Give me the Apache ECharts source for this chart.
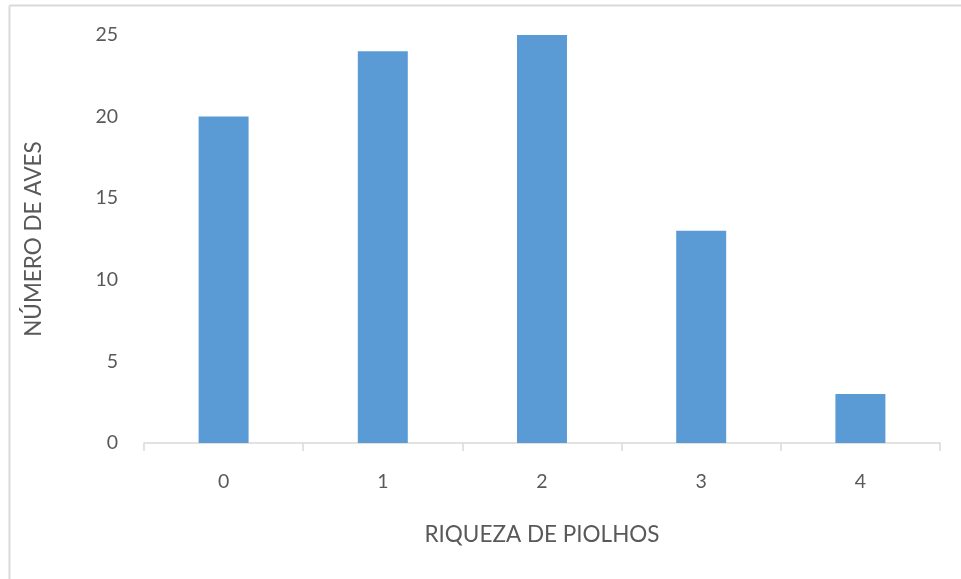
<!DOCTYPE html>
<html>
<head>
<meta charset="utf-8">
<script src="https://cdn.jsdelivr.net/npm/echarts@6/dist/echarts.min.js"></script>
<style>
  html, body { margin: 0; padding: 0; background: #ffffff; }
  #chart { width: 961px; height: 579px; }
</style>
</head>
<body>
<div id="chart"></div>
<script>
// Lice richness classes and number of birds in each
const categories = ['0', '1', '2', '3', '4'];
const birdCounts = [20, 24, 25, 13, 3];
const yTicks = { min: 0, max: 25, interval: 5 };

const xTitle = 'RIQUEZA DE PIOLHOS';
const yTitle = 'NÚMERO DE AVES';

const FONT = 'Lato, "Open Sans", sans-serif';
const TEXT = '#595959';

const chart = echarts.init(document.getElementById('chart'), null, { renderer: 'canvas' });

chart.setOption({
  backgroundColor: '#ffffff',
  animation: false,
  textStyle: { fontFamily: FONT },
  graphic: [
    // thin frame along the top and left edges
    { type: 'line', shape: { x1: 9.5, y1: 5.5, x2: 961, y2: 5.5 }, style: { stroke: '#d9d9d9', lineWidth: 2 } },
    { type: 'line', shape: { x1: 9.5, y1: 5.5, x2: 9.5, y2: 579 }, style: { stroke: '#d9d9d9', lineWidth: 2 } }
  ],
  grid: { left: 144, right: 21, top: 35, bottom: 136, containLabel: false },
  xAxis: {
    type: 'category',
    data: categories,
    name: xTitle,
    nameLocation: 'middle',
    nameGap: 80,
    nameTextStyle: { color: TEXT, fontSize: 22.5, fontFamily: FONT },
    axisLine: { show: true, lineStyle: { color: '#d9d9d9', width: 1.5 } },
    axisTick: { show: true, alignWithLabel: false, length: 8, lineStyle: { color: '#d9d9d9', width: 1.5 } },
    axisLabel: { color: TEXT, fontSize: 19.5, margin: 29, fontFamily: FONT },
    splitLine: { show: false }
  },
  yAxis: {
    type: 'value',
    min: yTicks.min,
    max: yTicks.max,
    interval: yTicks.interval,
    name: yTitle,
    nameLocation: 'middle',
    nameGap: 99,
    nameRotate: 90,
    nameTextStyle: { color: TEXT, fontSize: 22.5, fontFamily: FONT },
    axisLine: { show: false },
    axisTick: { show: false },
    axisLabel: { color: TEXT, fontSize: 19.5, margin: 26, fontFamily: FONT },
    splitLine: { show: false }
  },
  series: [{
    type: 'bar',
    data: birdCounts,
    barWidth: '31.4%',
    itemStyle: { color: '#5b9bd5' }
  }]
});
</script>
</body>
</html>
